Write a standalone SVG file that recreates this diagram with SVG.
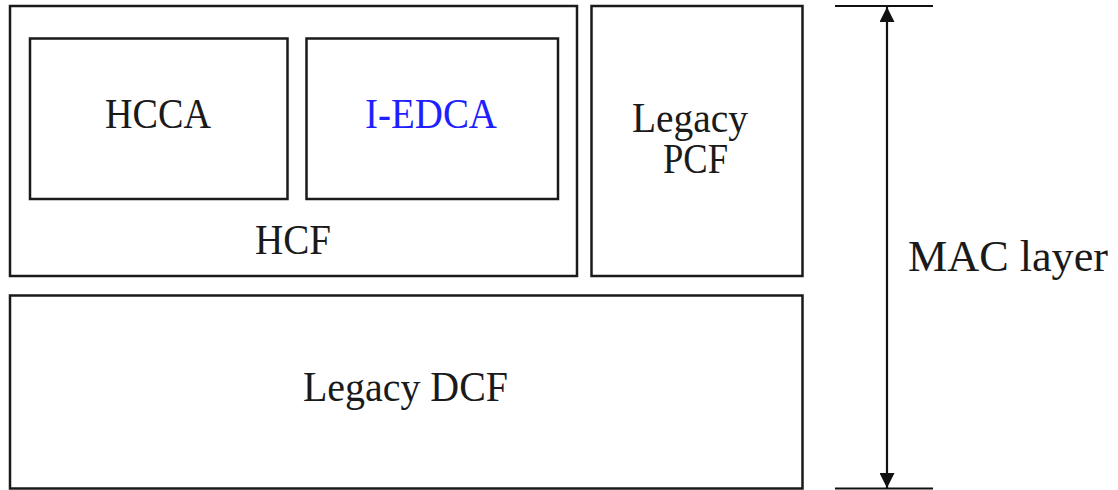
<svg xmlns="http://www.w3.org/2000/svg" width="1118" height="490" viewBox="0 0 1118 490">
<style>
.box{fill:none;stroke:#1a1a1a;stroke-width:2.5}
.t{font-family:"Liberation Serif","Times New Roman",serif;font-size:42px;fill:#1a1a1a;text-anchor:middle}
.blue{fill:#1f1fff}
.ln{stroke:#111;stroke-width:2.2;fill:none}
</style>
<defs>
<marker id="ah" viewBox="0 0 10 10" refX="10" refY="5" markerWidth="15" markerHeight="15" markerUnits="userSpaceOnUse" orient="auto-start-reverse">
<path d="M0,0 L10,5 L0,10 z" fill="#111"/>
</marker>
</defs>
<rect x="0" y="0" width="1118" height="490" fill="#fff"/>
<g id="hcf">
<rect class="box" x="10" y="6" width="567" height="270"/>
<text class="t" x="293" y="254" textLength="76" lengthAdjust="spacingAndGlyphs">HCF</text>
</g>
<g id="hcca">
<rect class="box" x="30" y="38.5" width="257.5" height="160.5"/>
<text class="t" x="158" y="128" textLength="106" lengthAdjust="spacingAndGlyphs">HCCA</text>
</g>
<g id="iedca">
<rect class="box" x="306.5" y="38.5" width="251.5" height="160.5"/>
<text class="t blue" x="431" y="128" textLength="132" lengthAdjust="spacingAndGlyphs">I-EDCA</text>
</g>
<g id="pcf">
<rect class="box" x="591.5" y="6" width="211" height="270"/>
<text class="t" x="690" y="131.5" textLength="116" lengthAdjust="spacingAndGlyphs">Legacy</text>
<text class="t" x="695.5" y="173" textLength="65" lengthAdjust="spacingAndGlyphs">PCF</text>
</g>
<g id="dcf">
<rect class="box" x="10" y="295.5" width="792.5" height="193"/>
<text class="t" x="405.5" y="401" textLength="205" lengthAdjust="spacingAndGlyphs">Legacy DCF</text>
</g>
<g id="connectors">
<line class="ln" x1="835" y1="6" x2="933" y2="6"/>
<line class="ln" x1="835" y1="488.5" x2="933" y2="488.5"/>
<line class="ln" x1="887" y1="7" x2="887" y2="488" marker-start="url(#ah)" marker-end="url(#ah)"/>
</g>
<g id="mac">
<text class="t" x="1008" y="271" style="font-size:45px" textLength="200" lengthAdjust="spacingAndGlyphs">MAC layer</text>
</g>
</svg>
